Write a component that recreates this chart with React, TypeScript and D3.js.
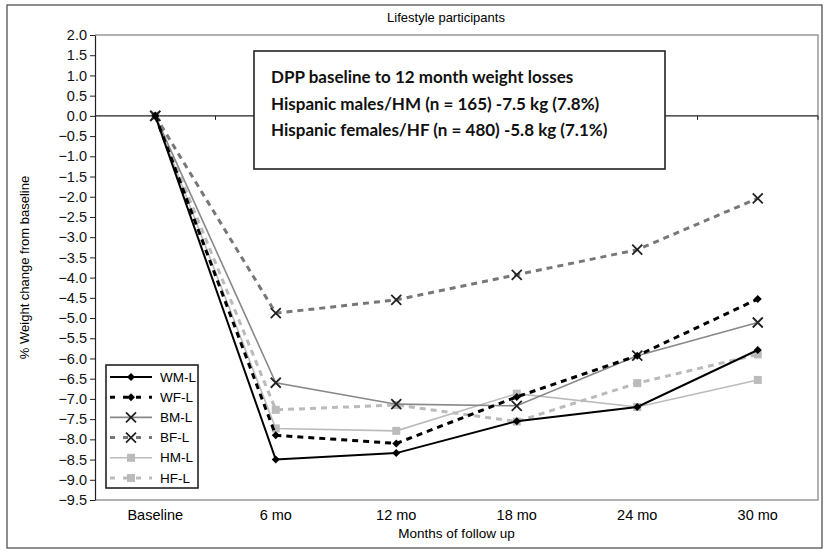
import React, { useEffect, useRef } from 'react';
import * as d3 from 'd3';

const categories = ['Baseline', '6 mo', '12 mo', '18 mo', '24 mo', '30 mo'];
const wmL = [0, -8.5, -8.34, -7.55, -7.2, -5.79];
const wfL = [0, -7.9, -8.1, -6.95, -5.93, -4.53];
const bmL = [0, -6.6, -7.13, -7.17, -5.93, -5.11];
const bfL = [0, -4.88, -4.55, -3.93, -3.31, -2.04];
const hmL = [0, -7.73, -7.79, -6.87, -7.2, -6.53];
const hfL = [0, -7.27, -7.15, -7.56, -6.61, -5.9];
const seriesNames = ['WM-L', 'WF-L', 'BM-L', 'BF-L', 'HM-L', 'HF-L'];
const boxLines = [
    'DPP baseline to 12 month weight losses',
    'Hispanic males/HM (n = 165) -7.5 kg (7.8%)',
    'Hispanic females/HF (n = 480) -5.8 kg (7.1%)',
];

function App() {
    const svgRef = useRef(null);
    const w = 827;
    const h = 553;

    useEffect(() => {
        const svg = d3.select(svgRef.current);
        svg.selectAll('*').remove();

        const left = 95, right = 818, top = 35, bottom = 500;
        const font = '"Liberation Sans", Arial, sans-serif';

        const x = d3.scaleBand().domain(categories).range([left, right]);
        const y = d3.scaleLinear().domain([2, -9.5]).range([top, bottom]);
        const cx = (c) => x(c) + x.bandwidth() / 2;

        // outer border
        svg.append('rect')
            .attr('x', 7).attr('y', 5).attr('width', 815).attr('height', 543)
            .attr('fill', 'white').attr('stroke', '#444').attr('stroke-width', 1.2);

        // plot frame (top/right/bottom in gray)
        svg.append('path')
            .attr('d', `M${left},${top}H${right}V${bottom}H${left}`)
            .attr('fill', 'none').attr('stroke', '#999').attr('stroke-width', 1.5);

        svg.append('text')
            .attr('x', 446).attr('y', 22)
            .attr('text-anchor', 'middle')
            .style('font-family', font).style('font-size', '13px')
            .text('Lifestyle participants');

        // y axis
        const yAxis = d3.axisLeft(y)
            .tickValues(d3.range(-9.5, 2.01, 0.5))
            .tickFormat(d3.format('.1f'))
            .tickSize(5).tickSizeOuter(0);
        const gy = svg.append('g').attr('transform', `translate(${left},0)`).call(yAxis);
        gy.select('.domain').attr('stroke', '#222').attr('stroke-width', 1.2);
        gy.selectAll('.tick line').attr('stroke', '#222');
        gy.selectAll('text')
            .style('font-family', font).style('font-size', '14.5px').attr('fill', '#111');

        svg.append('text')
            .attr('transform', `translate(29,${(top + bottom) / 2}) rotate(-90)`)
            .attr('text-anchor', 'middle')
            .style('font-family', font).style('font-size', '13px')
            .text('% Weight change from baseline');

        // zero line with ticks at band boundaries
        svg.append('line')
            .attr('x1', left).attr('x2', right).attr('y1', y(0)).attr('y2', y(0))
            .attr('stroke', '#222').attr('stroke-width', 1.3);
        svg.selectAll('.zt')
            .data(categories.slice(1).concat(['end']))
            .enter().append('line')
            .attr('x1', (d, i) => left + x.bandwidth() * (i + 1))
            .attr('x2', (d, i) => left + x.bandwidth() * (i + 1))
            .attr('y1', y(0)).attr('y2', y(0) + 4)
            .attr('stroke', '#222');

        // x labels
        svg.selectAll('.xl')
            .data(categories)
            .enter().append('text')
            .attr('x', (d) => cx(d)).attr('y', 520)
            .attr('text-anchor', 'middle')
            .style('font-family', font).style('font-size', '14.5px')
            .text((d) => d);
        svg.append('text')
            .attr('x', (left + right) / 2).attr('y', 538)
            .attr('text-anchor', 'middle')
            .style('font-family', font).style('font-size', '13.5px')
            .text('Months of follow up');

        // annotation box
        svg.append('rect')
            .attr('x', 254).attr('y', 51).attr('width', 411).attr('height', 118)
            .attr('fill', 'white').attr('stroke', '#222').attr('stroke-width', 1.6);
        svg.selectAll('.bl')
            .data(boxLines)
            .enter().append('text')
            .attr('x', 271).attr('y', (d, i) => 83 + i * 26.5)
            .style('font-family', 'Lato, "Open Sans", sans-serif')
            .style('font-size', '17px').style('font-weight', 'bold')
            .attr('fill', '#111')
            .text((d) => d);

        const series = [
            { name: seriesNames[0], vals: wmL, color: '#000', width: 2, dash: null, mark: 'diamond', mcolor: '#000' },
            { name: seriesNames[1], vals: wfL, color: '#000', width: 3, dash: '6,5', mark: 'diamond', mcolor: '#000' },
            { name: seriesNames[2], vals: bmL, color: '#888', width: 1.6, dash: null, mark: 'x', mcolor: '#222' },
            { name: seriesNames[3], vals: bfL, color: '#777', width: 3, dash: '6,5', mark: 'x', mcolor: '#222' },
            { name: seriesNames[4], vals: hmL, color: '#bbb', width: 1.6, dash: null, mark: 'square', mcolor: '#bbb' },
            { name: seriesNames[5], vals: hfL, color: '#bbb', width: 3, dash: '6,5', mark: 'square', mcolor: '#bbb' },
        ];

        const line = d3.line().x((d) => cx(d[0])).y((d) => y(d[1]));

        const drawMark = (g, s, px, py) => {
            if (s.mark === 'diamond') {
                g.append('path')
                    .attr('d', `M${px},${py - 4}L${px + 4},${py}L${px},${py + 4}L${px - 4},${py}Z`)
                    .attr('fill', s.mcolor);
            } else if (s.mark === 'x') {
                g.append('path')
                    .attr('d', `M${px - 5},${py - 5}L${px + 5},${py + 5}M${px - 5},${py + 5}L${px + 5},${py - 5}`)
                    .attr('stroke', s.mcolor).attr('stroke-width', 1.8);
            } else {
                g.append('rect')
                    .attr('x', px - 4).attr('y', py - 4).attr('width', 8).attr('height', 8)
                    .attr('fill', s.mcolor);
            }
        };

        const plot = svg.append('g');
        series.slice().reverse().forEach((s) => {
            const pts = categories.map((c, i) => [c, s.vals[i]]);
            plot.append('path')
                .attr('d', line(pts))
                .attr('fill', 'none')
                .attr('stroke', s.color)
                .attr('stroke-width', s.width)
                .attr('stroke-dasharray', s.dash);
            pts.forEach((p) => drawMark(plot, s, cx(p[0]), y(p[1])));
        });

        // legend
        const lg = svg.append('g');
        lg.append('rect')
            .attr('x', 106).attr('y', 365).attr('width', 92).attr('height', 123)
            .attr('fill', 'white').attr('stroke', '#222').attr('stroke-width', 1.6);
        series.forEach((s, i) => {
            const ly = 377 + i * 20.2;
            lg.append('line')
                .attr('x1', 110).attr('x2', 152).attr('y1', ly).attr('y2', ly)
                .attr('stroke', s.color).attr('stroke-width', s.width)
                .attr('stroke-dasharray', s.dash ? '5,8' : null);
            drawMark(lg, s, 131, ly);
            lg.append('text')
                .attr('x', 160).attr('y', ly + 4.5)
                .style('font-family', font).style('font-size', '13.5px')
                .text(s.name);
        });
    }, []);

    return (
        <svg ref={svgRef} width={w} height={h}
            style={{ position: 'absolute', left: 0, top: 0, background: 'white' }}></svg>
    );
}

export default App;
